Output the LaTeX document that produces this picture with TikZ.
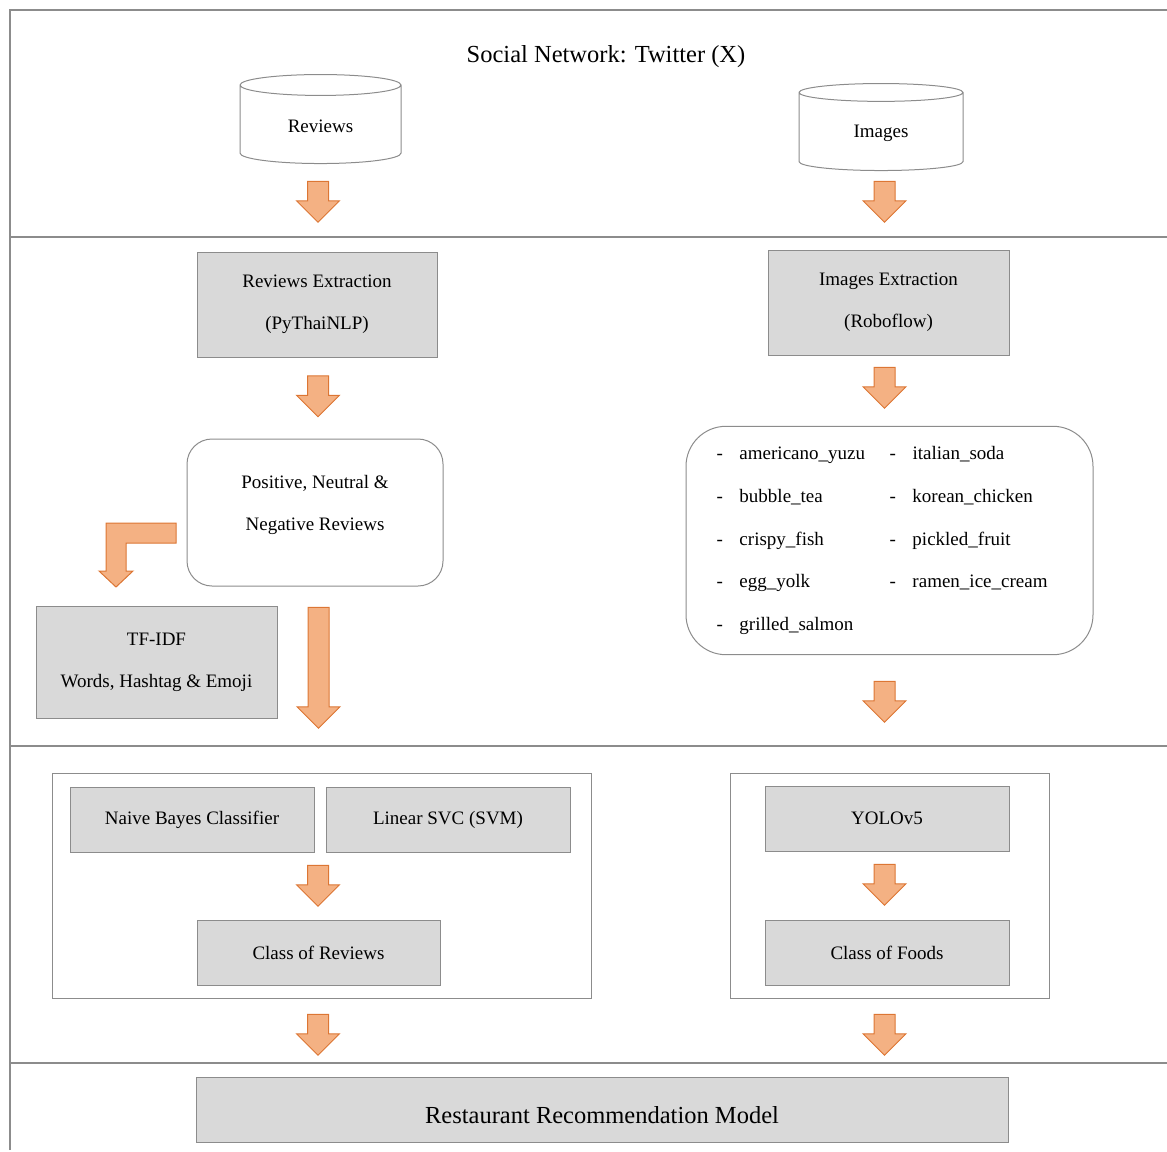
\documentclass[tikz,border=0pt]{standalone}
\usepackage{fontspec}
\setmainfont{Liberation Serif}
\newfontfamily\diagramfont{Liberation Serif}
\usetikzlibrary{shapes.geometric, shapes.arrows, positioning}
\definecolor{boxgray}{HTML}{D9D9D9}
\definecolor{linegray}{HTML}{8C8C8C}
\definecolor{arrowfill}{HTML}{F4B183}
\definecolor{arrowline}{HTML}{DC7634}

\begin{document}
\begin{tikzpicture}[
    x=1pt, y=-1pt,
    every node/.style={font=\diagramfont},
    box/.style={rectangle, draw=linegray, fill=boxgray, line width=1pt, minimum width=243pt, minimum height=65pt, align=center, font=\diagramfont\fontsize{19}{42}\selectfont},
    roundbox/.style={rectangle, rounded corners=25pt, draw=linegray, fill=white, line width=1pt, align=center, font=\diagramfont\fontsize{19}{42}\selectfont},
    groupbox/.style={rectangle, draw=linegray, fill=white, line width=1pt, minimum height=225pt},
    db/.style={cylinder, shape border rotate=90, aspect=0.29, draw=linegray, line width=1pt, font=\diagramfont\fontsize{19}{23}\selectfont},
    fatarrow/.style={single arrow, rotate=-90, draw=arrowline, fill=arrowfill, line width=1pt, inner xsep=0pt, inner ysep=10pt, single arrow head extend=11pt, minimum height=41pt},
    frameline/.style={draw=linegray, line width=1.2pt}
]
    \useasboundingbox (0,0) rectangle (1167,1151);

    % Frame and lane separators
    \draw[frameline] (10,1150) -- (10,10) -- (1167,10);
    \draw[frameline] (10,237) -- (1167,237);
    \draw[frameline] (10,746) -- (1167,746);
    \draw[frameline] (10,1063) -- (1167,1063);

    % Source
    \node[font=\diagramfont\fontsize{24.5}{29}\selectfont] (title) at (606,57) {Social Network: Twitter (X)};
    \node[db, minimum width=161pt, minimum height=89pt] (reviews) at (320.5,126) {Reviews};
    \node[db, minimum width=164pt, minimum height=87pt] (images) at (881,133) {Images};

    % Extraction
    \node[box, minimum width=240pt, minimum height=105pt] (revext) at (317,304.5) {Reviews Extraction\\(PyThaiNLP)};
    \node[box, minimum width=241pt, minimum height=105pt] (imgext) at (888.5,302.5) {Images Extraction\\(Roboflow)};
    \node[roundbox, minimum width=256pt, minimum height=147pt, text depth=20pt] (sentiment) at (315,512.5) {Positive, Neutral \&\\Negative Reviews};
    \node[box, minimum width=241pt, minimum height=112pt] (tfidf) at (156.5,662) {TF-IDF\\Words, Hashtag \& Emoji};
    \node[roundbox, rounded corners=40pt, minimum width=407pt, minimum height=227pt] (foodlist) at (889.5,540.5) {%
        \fontsize{19}{42.75}\selectfont
        \begin{tabular}{@{}p{23pt}@{}p{150pt}@{}p{23pt}@{}p{150pt}@{}}
        - & americano\_yuzu & - & italian\_soda\\
        - & bubble\_tea & - & korean\_chicken\\
        - & crispy\_fish & - & pickled\_fruit\\
        - & egg\_yolk & - & ramen\_ice\_cream\\
        - & grilled\_salmon & & \\[8pt]
        \end{tabular}};

    % Classification
    \node[groupbox, minimum width=539pt] (revgroup) at (321.5,885.5) {};
    \node[groupbox, minimum width=319pt] (imggroup) at (889.5,885.5) {};
    \node[box, minimum width=244pt] (bayes) at (192,819.5) {Naive Bayes Classifier};
    \node[box, minimum width=244pt] (svc) at (448,819.5) {Linear SVC (SVM)};
    \node[box] (revclass) at (318.5,952.5) {Class of Reviews};
    \node[box, minimum width=244pt] (yolo) at (887,818.5) {YOLOv5};
    \node[box, minimum width=244pt] (foodclass) at (887,952.5) {Class of Foods};

    % Output
    \node[box, minimum width=812pt, text height=28pt, text depth=0pt, font=\diagramfont\fontsize{24.5}{29}\selectfont] (model) at (602,1109.5) {Restaurant Recommendation Model};

    % Block arrows
    \node[fatarrow] (arr1) at (318,196.5) {};
    \node[fatarrow] (arr2) at (884.5,196.5) {};
    \node[fatarrow] (arr3) at (318,391) {};
    \node[fatarrow] (arr4) at (884.5,382.5) {};
    \node[fatarrow, minimum height=121pt] (arr5) at (318.5,662.5) {};
    \node[fatarrow] (arr6) at (884.5,696.5) {};
    \node[fatarrow] (arr7) at (318,880.5) {};
    \node[fatarrow] (arr8) at (884.5,879.5) {};
    \node[fatarrow] (arr9) at (318,1029.5) {};
    \node[fatarrow] (arr10) at (884.5,1029.5) {};

    % Elbow arrow towards TF-IDF
    \draw[draw=arrowline, fill=arrowfill, line width=1pt] (176,523) -- (106,523) -- (106,571) -- (99,571) -- (116,587) -- (133,571) -- (126,571) -- (126,543) -- (176,543) -- cycle;
\end{tikzpicture}
\end{document}
